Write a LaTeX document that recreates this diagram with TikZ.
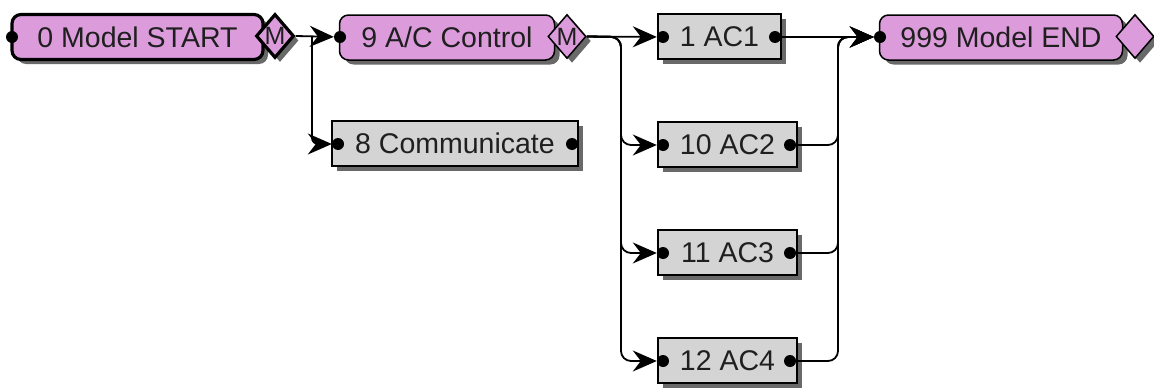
\documentclass[tikz,border=0pt]{standalone}
\usepackage{fontspec}
\setmainfont{Liberation Sans}
\usetikzlibrary{shapes.geometric,shadows,arrows.meta}
\definecolor{plumfill}{RGB}{220,156,220}
\definecolor{actfill}{RGB}{212,212,212}
\definecolor{shadegray}{RGB}{105,105,105}
\tikzset{
  lbl/.style={font=\fontsize{28.5}{30}\selectfont, text=black!88},
  boxshadow/.style={drop shadow={shadow xshift=5pt, shadow yshift=-4.5pt, fill=shadegray, opacity=1}},
  modelbox/.style={draw=black, line width=1.5pt, fill=plumfill, rounded corners=9pt,
    inner sep=0pt, minimum height=45pt, boxshadow, lbl},
  actbox/.style={draw=black, line width=1.5pt, fill=actfill, inner sep=0pt,
    minimum height=45pt, boxshadow, lbl},
  flag/.style={diamond, draw=black, line width=1.5pt, fill=plumfill, inner sep=0pt,
    minimum width=38pt, minimum height=44pt, boxshadow,
    font=\fontsize{25}{25}\selectfont, text=black!88},
  port/.style={circle, fill=black, inner sep=0pt, minimum size=12pt},
  conn/.style={line width=1.8pt, -{Stealth[length=24pt,width=21pt,inset=8pt]}},
}
\begin{document}
\begin{tikzpicture}[x=1pt,y=-1pt]
\useasboundingbox (0,0) rectangle (1154,388);

% model start / end and the control model
\node[modelbox, line width=3.2pt, minimum width=251pt] (m0) at (137.5,37) {0 Model START};
\node[flag, line width=3.2pt] (d0) at (275,36) {M};
\node[modelbox, minimum width=215pt] (m9) at (447,37.5) {9 A/C Control};
\node[flag] (d9) at (567,36.5) {M};
\node[modelbox, minimum width=243pt] (m999) at (1001,37.5) {999 Model END};
\node[flag] (d999) at (1135,36.5) {};

% activities
\node[actbox, minimum width=246pt] (a8) at (455,143.5) {8 Communicate};
\node[actbox, minimum width=123pt] (a1) at (719.5,36.5) {1 AC1};
\node[actbox, minimum width=139pt] (a2) at (727.5,144.5) {10 AC2};
\node[actbox, minimum width=139pt] (a3) at (727.5,252.5) {11 AC3};
\node[actbox, minimum width=139pt] (a4) at (727.5,360.5) {12 AC4};

% ports
\node[port] (in0) at (12,37) {};
\node[port] (in9) at (340,37) {};
\node[port] (inEnd) at (880,37) {};
\node[port] (in8) at (338,144) {};
\node[port] (out8) at (572,144) {};
\node[port] (in1) at (663,37) {};
\node[port] (out1) at (775,37) {};
\node[port] (in2) at (663,145) {};
\node[port] (out2) at (790,145) {};
\node[port] (in3) at (663,253) {};
\node[port] (out3) at (790,253) {};
\node[port] (in4) at (663,361) {};
\node[port] (out4) at (790,361) {};

% junctions
\coordinate (j1) at (312,37);
\coordinate (j2) at (621,37);
\coordinate (jr) at (838,37);

% connectors
\draw[conn] (d0.east) -- (in9);
\draw[conn, rounded corners=6pt] (j1) |- (in8);
\draw[conn] (d9.east) -- (in1);
\draw[conn, rounded corners=10pt] (d9.east) -- (j2) |- (in2);
\draw[conn, rounded corners=10pt] (d9.east) -- (j2) |- (in3);
\draw[conn, rounded corners=10pt] (d9.east) -- (j2) |- (in4);
\draw[conn] (out1) -- (inEnd);
\draw[conn, rounded corners=10pt] (out2) -| (jr) -- (inEnd);
\draw[conn, rounded corners=10pt] (out3) -| (jr) -- (inEnd);
\draw[conn, rounded corners=10pt] (out4) -| (jr) -- (inEnd);
\end{tikzpicture}
\end{document}
